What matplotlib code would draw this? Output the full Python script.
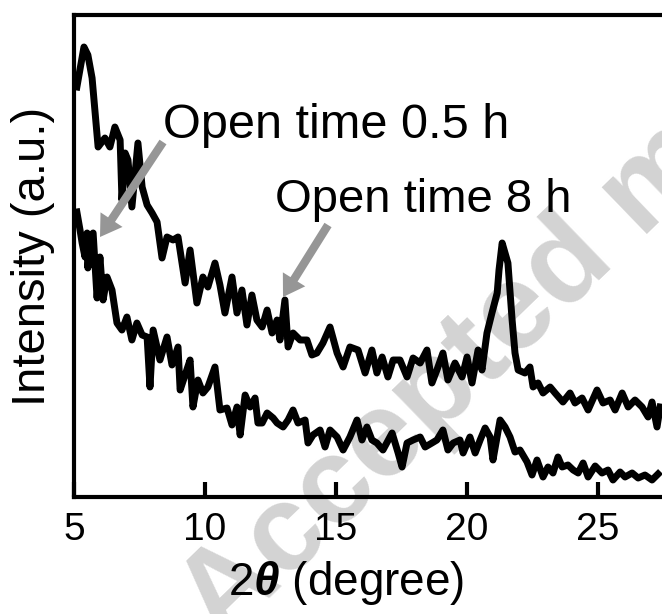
import numpy as np
import matplotlib.pyplot as plt

# XRD patterns, intensity in arbitrary units
two_theta_05h = [5.11, 5.38, 5.53, 5.69, 5.92, 6.18, 6.37, 6.56, 6.76, 6.83,
                 6.95, 7.06, 7.21, 7.44, 7.60, 7.79, 7.98, 8.17, 8.36, 8.55,
                 8.78, 8.97, 9.24, 9.43, 9.69, 9.92, 10.11, 10.38, 10.57, 10.76,
                 11.03, 11.22, 11.41, 11.60, 11.79, 11.98, 12.18, 12.37, 12.56, 12.75,
                 12.86, 13.05, 13.17, 13.36, 13.63, 13.89, 14.08, 14.27, 14.50, 14.77,
                 15.04, 15.27, 15.53, 15.84, 16.11, 16.37, 16.56, 16.76, 16.98, 17.18,
                 17.44, 17.71, 17.94, 18.21, 18.47, 18.66, 18.85, 19.08, 19.27, 19.54,
                 19.81, 20.00, 20.19, 20.42, 20.57, 20.76, 20.95, 21.15, 21.22, 21.34,
                 21.45, 21.56, 21.72, 21.83, 21.95, 22.21, 22.40, 22.52, 22.71, 22.90,
                 23.17, 23.36, 23.66, 23.93, 24.12, 24.39, 24.62, 24.96, 25.19, 25.46,
                 25.65, 25.92, 26.15, 26.41, 26.68, 26.91, 27.06, 27.25, 27.37]
int_05h = [413, 453, 445, 422, 353, 362, 353, 373, 360, 300,
           347, 340, 293, 357, 313, 295, 287, 278, 242, 263,
           260, 263, 217, 250, 197, 223, 213, 237, 215, 187,
           223, 187, 210, 175, 205, 180, 173, 190, 167, 180,
           160, 200, 153, 167, 160, 160, 145, 147, 157, 173,
           147, 133, 153, 150, 127, 150, 127, 143, 123, 140,
           140, 123, 142, 137, 150, 117, 130, 147, 120, 137,
           123, 143, 117, 150, 130, 167, 187, 207, 230, 257,
           247, 237, 180, 147, 130, 127, 133, 113, 117, 107,
           113, 107, 98, 107, 97, 102, 90, 110, 97, 100,
           90, 107, 93, 100, 93, 83, 98, 73, 93]

two_theta_8h = [5.11, 5.23, 5.31, 5.42, 5.50, 5.53, 5.61, 5.73, 5.88, 5.99,
                6.11, 6.26, 6.45, 6.64, 6.83, 7.02, 7.21, 7.40, 7.60, 7.79,
                7.90, 8.02, 8.28, 8.55, 8.74, 8.97, 9.05, 9.24, 9.43, 9.54,
                9.73, 9.92, 10.11, 10.38, 10.57, 10.84, 11.03, 11.22, 11.34, 11.53,
                11.72, 11.91, 12.02, 12.18, 12.37, 12.60, 12.75, 12.98, 13.17, 13.36,
                13.55, 13.82, 13.93, 14.12, 14.39, 14.58, 14.77, 15.04, 15.27, 15.53,
                15.80, 15.99, 16.18, 16.37, 16.56, 16.79, 17.14, 17.37, 17.52, 17.71,
                17.94, 18.21, 18.40, 18.66, 18.85, 19.08, 19.27, 19.47, 19.73, 19.85,
                20.11, 20.31, 20.50, 20.69, 20.88, 20.99, 21.26, 21.45, 21.64, 21.83,
                22.02, 22.29, 22.48, 22.67, 22.90, 23.09, 23.28, 23.47, 23.63, 23.85,
                24.05, 24.24, 24.43, 24.62, 24.89, 25.15, 25.38, 25.57, 25.84, 26.03,
                26.30, 26.53, 26.79, 27.06, 27.29]
int_8h = [288, 270, 257, 243, 267, 232, 263, 267, 202, 243,
          200, 223, 210, 177, 170, 183, 160, 177, 165, 163,
          113, 170, 140, 163, 135, 153, 110, 125, 140, 93,
          120, 107, 113, 133, 90, 92, 75, 93, 65, 105,
          93, 102, 77, 77, 87, 82, 77, 73, 80, 90,
          77, 80, 57, 65, 70, 53, 70, 63, 50, 63,
          80, 60, 73, 60, 57, 50, 67, 47, 33, 57,
          60, 63, 53, 57, 60, 70, 50, 57, 60, 47,
          63, 47, 60, 72, 63, 40, 80, 73, 63, 48,
          50, 38, 25, 40, 23, 33, 27, 43, 33, 35,
          30, 27, 37, 23, 34, 27, 30, 20, 28, 23,
          27, 22, 25, 20, 26]

xticks = [5, 10, 15, 20, 25]

plt.rcParams['font.family'] = ['Liberation Sans', 'DejaVu Sans']
plt.rcParams['mathtext.fontset'] = 'custom'
plt.rcParams['mathtext.rm'] = 'Liberation Sans'
plt.rcParams['mathtext.it'] = 'Liberation Sans:italic'
plt.rcParams['mathtext.bf'] = 'Liberation Sans:bold:italic'

W, H = 662, 614
fig = plt.figure(figsize=(W / 100, H / 100), dpi=100)
ax = fig.add_axes([74 / W, 1 - 497 / H, 1 - 74 / W, (497 - 15) / H])


def fpx(px, py):
    # pixel position (from top-left) -> figure fraction
    return (px / W, 1 - py / H)


ax.plot(two_theta_05h, int_05h, color='black', lw=5, zorder=3,
        solid_joinstyle='round')
ax.plot(two_theta_8h, int_8h, color='black', lw=5, zorder=3,
        solid_joinstyle='round')

ax.set_xlim(5, 27.44)
ax.set_ylim(3, 485)
ax.set_xticks(xticks)
ax.set_yticks([])
ax.tick_params(axis='x', direction='in', length=11, width=3,
               labelsize=28, pad=11)
for s in ['left', 'bottom', 'top']:
    ax.spines[s].set_linewidth(3)
ax.spines['right'].set_visible(False)

ax.set_xlabel('2$\\mathbf{\\theta}$ (degree)', fontsize=33)
ax.xaxis.set_label_coords((346 - 74) / 588, -0.128)
ax.set_ylabel('Intensity (a.u.)', fontsize=34, labelpad=14)

# labels and arrows
fig.text(*fpx(163, 125), 'Open time 0.5 h', fontsize=35, va='center')
fig.text(*fpx(275, 200), 'Open time 8 h', fontsize=34, va='center')
arrow = dict(arrowstyle='simple,head_width=0.95,head_length=0.75,tail_width=0.3',
             mutation_scale=20, color='#969696', lw=0, shrinkA=0, shrinkB=0)
ax.annotate('', xy=fpx(100, 237), xycoords='figure fraction',
            xytext=fpx(163, 142), textcoords='figure fraction',
            arrowprops=arrow, zorder=4)
ax.annotate('', xy=fpx(283, 297), xycoords='figure fraction',
            xytext=fpx(328, 225), textcoords='figure fraction',
            arrowprops=arrow, zorder=4)

# watermark
ax.text(*fpx(222, 645), 'Accepted manuscript', transform=fig.transFigure,
        fontsize=88, fontweight='bold', color='#d3d3d3', rotation=44,
        ha='left', va='baseline', rotation_mode='anchor', zorder=1,
        clip_on=False)

fig.savefig('out.png', dpi=100)
